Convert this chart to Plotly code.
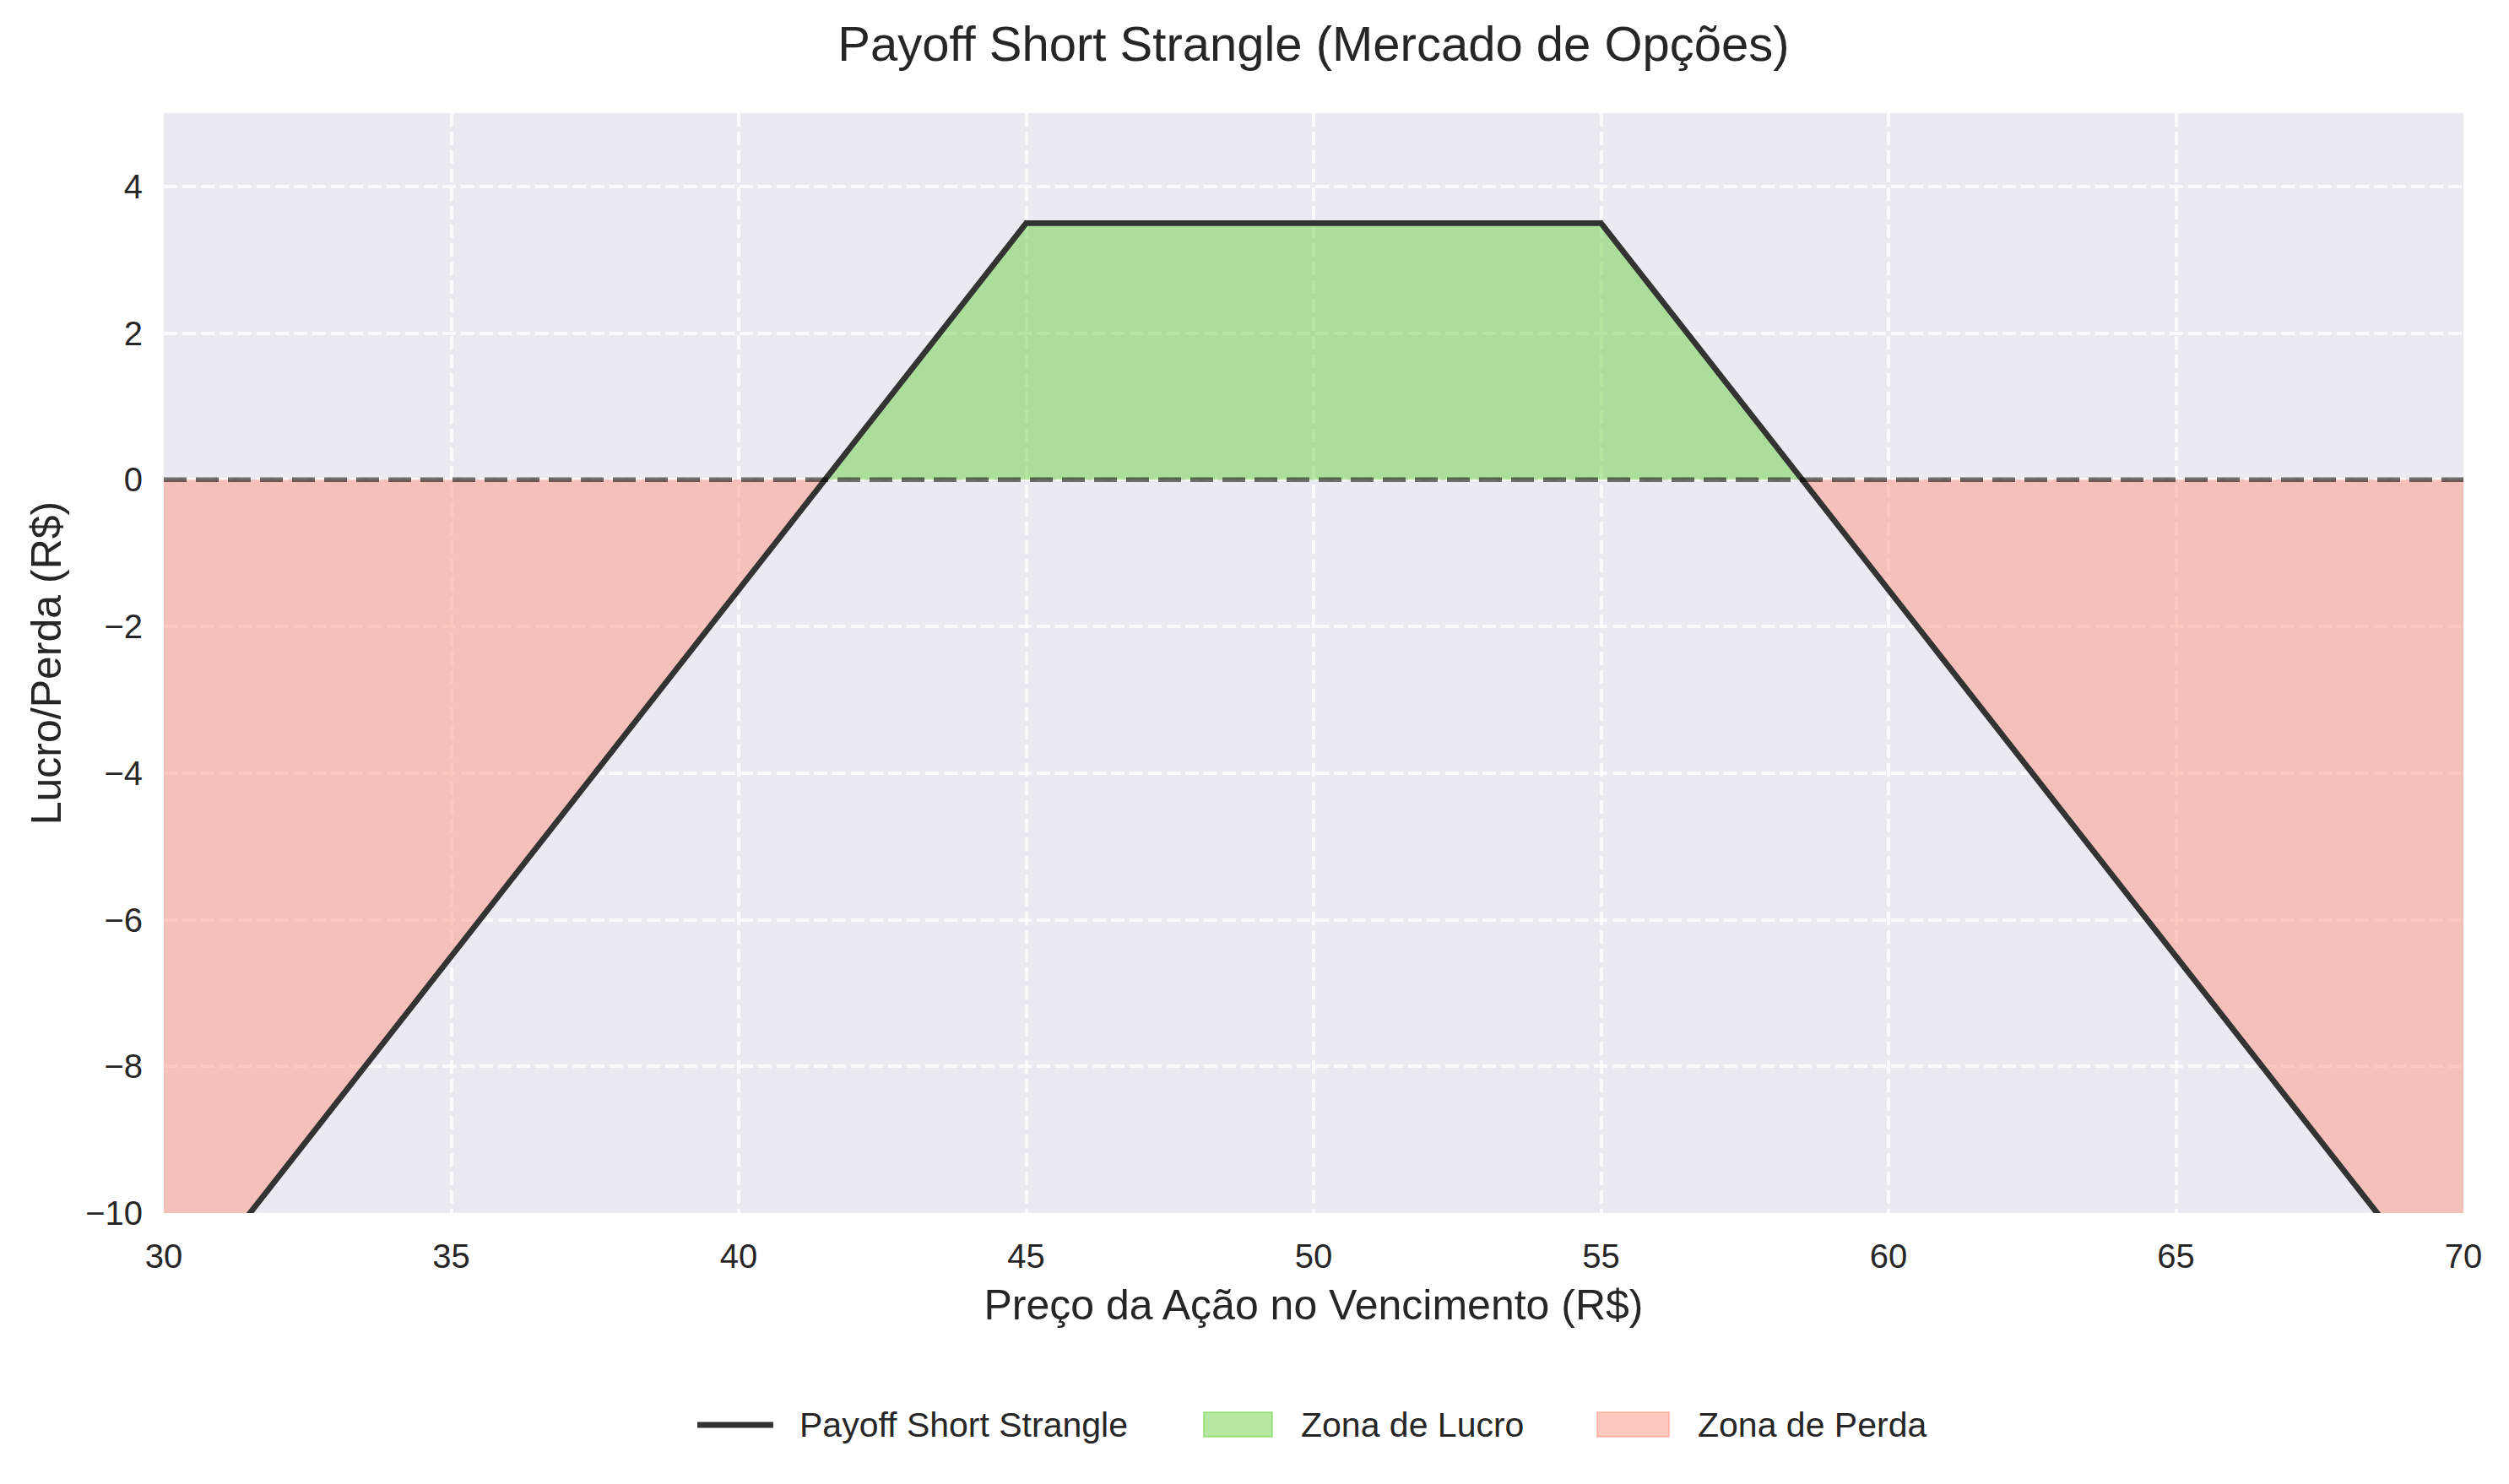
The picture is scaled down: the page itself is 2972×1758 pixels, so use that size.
import plotly.graph_objects as go

# ---- data ----
prices = [30, 41.5, 45, 55, 58.5, 70]          # stock price at expiry (kink / breakeven points)
payoff = [-11.5, 0.0, 3.5, 3.5, 0.0, -11.5]    # short strangle P/L
x_ticks = [30, 35, 40, 45, 50, 55, 60, 65, 70]
y_ticks = [-10, -8, -6, -4, -2, 0, 2, 4]
x_range = [30, 70]
y_range = [-10, 5]

title_txt = "Payoff Short Strangle (Mercado de Opções)"
x_label = "Preço da Ação no Vencimento (R$)"
y_label = "Lucro/Perda (R$)"
names = ["Payoff Short Strangle", "Zona de Lucro", "Zona de Perda"]

FONT = "Liberation Sans, Arial, sans-serif"
TXT = "#262626"
LINE = "#333333"
GREEN = "rgba(107,209,65,0.5)"
RED = "rgba(255,147,129,0.5)"

# page body has an 8px margin -> figure sits at (8, 8)
OFF = 8
W, H = 2972 - 2 * OFF, 1758 - 2 * OFF
PL, PR, PT, PB = 194, 2918, 134, 1437          # plot area in page pixels
ML, MT = PL - OFF, PT - OFF
MR, MB = (OFF + W) - PR, (OFF + H) - PB
PW, PH = PR - PL, PB - PT


def px(xp):
    return (xp - PL) / PW


def py(yp):
    return (PB - yp) / PH


# split into profit / loss segments from the data
profit_x = [p for p, v in zip(prices, payoff) if v >= 0]
profit_y = [v for v in payoff if v >= 0]
left_idx = [i for i, v in enumerate(payoff) if v <= 0 and prices[i] < 50]
right_idx = [i for i, v in enumerate(payoff) if v <= 0 and prices[i] > 50]

fig = go.Figure()

fig.add_trace(go.Scatter(
    x=[prices[i] for i in left_idx], y=[payoff[i] for i in left_idx],
    mode="lines", line=dict(width=0, color=RED), fill="tozeroy", fillcolor=RED,
    name=names[2], hoverinfo="skip"))
fig.add_trace(go.Scatter(
    x=[prices[i] for i in right_idx], y=[payoff[i] for i in right_idx],
    mode="lines", line=dict(width=0, color=RED), fill="tozeroy", fillcolor=RED,
    name=names[2], hoverinfo="skip"))
fig.add_trace(go.Scatter(
    x=profit_x, y=profit_y,
    mode="lines", line=dict(width=0, color=GREEN), fill="tozeroy", fillcolor=GREEN,
    name=names[1], hoverinfo="skip"))
fig.add_trace(go.Scatter(
    x=prices, y=payoff, mode="lines",
    line=dict(color=LINE, width=6.8),
    name=names[0]))

fig.add_hline(y=0, line=dict(color="rgba(0,0,0,0.55)", width=5.5, dash="27px,11px"))

# ---- legend (drawn below the axes, matplotlib style) ----
leg_y = 1688
fig.add_shape(type="line", xref="paper", yref="paper",
              x0=px(826), x1=px(916), y0=py(leg_y), y1=py(leg_y),
              line=dict(color=LINE, width=6.8))
fig.add_shape(type="rect", xref="paper", yref="paper",
              x0=px(1426), x1=px(1507), y0=py(1702), y1=py(1673),
              fillcolor=GREEN, line=dict(color=GREEN, width=2))
fig.add_shape(type="rect", xref="paper", yref="paper",
              x0=px(1892), x1=px(1977), y0=py(1702), y1=py(1673),
              fillcolor=RED, line=dict(color=RED, width=2))
for name, xpos in zip(names, [945, 1539, 2009]):
    fig.add_annotation(text=name, xref="paper", yref="paper", x=px(xpos), y=py(leg_y),
                       xanchor="left", yanchor="middle", showarrow=False,
                       font=dict(family=FONT, size=41, color=TXT))

axis_common = dict(
    showgrid=True, gridcolor="rgba(255,255,255,0.75)", gridwidth=3.5,
    griddash="16px,6px", zeroline=False, showline=False,
    ticks="outside", tickcolor="rgba(0,0,0,0)",
    tickfont=dict(family=FONT, size=40, color=TXT),
)

fig.update_xaxes(range=x_range, tickvals=x_ticks, ticklen=16,
                 title=dict(text=x_label, font=dict(family=FONT, size=50, color=TXT), standoff=18),
                 **axis_common)
fig.update_yaxes(range=y_range, tickvals=y_ticks, ticklen=16,
                 title=dict(text=y_label, font=dict(family=FONT, size=50, color=TXT), standoff=12),
                 **axis_common)

fig.update_layout(
    width=W, height=H,
    margin=dict(l=ML, r=MR, t=MT, b=MB, autoexpand=False),
    paper_bgcolor="white", plot_bgcolor="#EAEAF2",
    title=dict(text=title_txt, x=0.5, xref="paper", xanchor="center",
               y=1 - (52 - OFF) / H, yanchor="middle",
               font=dict(family=FONT, size=58, color=TXT)),
    font=dict(family=FONT, color=TXT),
    showlegend=False,
)

fig.write_html("out.html")
